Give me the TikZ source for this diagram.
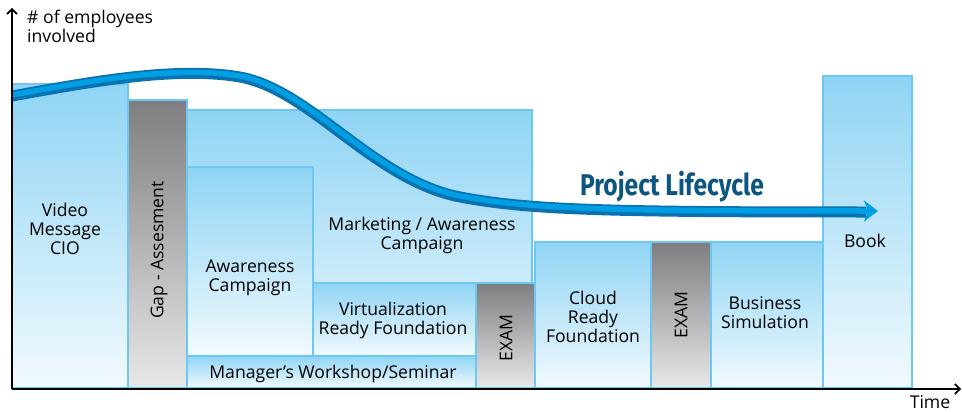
\documentclass[tikz,border=0pt]{standalone}
\usepackage{fontspec}
\setmainfont{Open Sans}
\newfontfamily\titlefont{Fira Sans}
\usetikzlibrary{arrows.meta}

\definecolor{boxtop}{HTML}{8FD4F4}
\definecolor{boxbot}{HTML}{F2FAFE}
\definecolor{boxedge}{HTML}{6CC8F0}
\definecolor{greytop}{HTML}{7E7D80}
\definecolor{greybot}{HTML}{E8E8E9}
\definecolor{lifedark}{HTML}{0A72B0}
\definecolor{lifelight}{HTML}{009FE3}
\definecolor{titleblue}{HTML}{0B5680}

\tikzset{
  bluebox/.style={top color=boxtop, bottom color=boxbot, draw=boxedge, line width=1.2pt},
  greybox/.style={top color=greytop, bottom color=greybot, draw=boxedge, line width=1.2pt},
  lbl/.style={align=center, font=\fontsize{17.6}{19}\selectfont, inner sep=0pt},
  axis/.style={line width=2.2pt, -{Straight Barb[length=5pt,width=10pt,line width=1.6pt]}}
}

\begin{document}
\begin{tikzpicture}[x=1pt, y=-1pt]
  \useasboundingbox (0,0) rectangle (962,412);
  % boxes
  \shadedraw[bluebox] (12,84) rectangle (128,388);
  \shadedraw[bluebox] (187,110) rectangle (532,388);
  \shadedraw[bluebox] (187,167) rectangle (313,356);
  \shadedraw[bluebox] (313,283) rectangle (476,356);
  \shadedraw[bluebox] (187,356) rectangle (476,388);
  \shadedraw[bluebox] (535,242) rectangle (651,388);
  \shadedraw[bluebox] (711,242) rectangle (823,388);
  \shadedraw[bluebox] (823,76) rectangle (912,388);
  \shadedraw[greybox] (128,100) rectangle (187,388);
  \shadedraw[greybox] (476,283) rectangle (535,388);
  \shadedraw[greybox] (651,242) rectangle (711,388);
  % lifecycle curve
  \draw[lifedark, line width=11pt] (12,96) .. controls (90,82) and (175,66) .. (240,77)
    .. controls (310,90) and (370,176) .. (455,196)
    .. controls (525,210) and (600,212) .. (866,212);
  \draw[lifelight, line width=5.5pt, -{Stealth[length=14pt,width=21pt,inset=4pt]}] (12,95) .. controls (90,81) and (175,65) .. (240,76)
    .. controls (310,89) and (370,175) .. (455,195)
    .. controls (525,209) and (600,211) .. (878,211);
  % labels
  \node[lbl] (cio) at (65,229) {Video\\Message\\CIO};
  \node[lbl, rotate=90] (gap) at (159,250) {Gap - Assesment};
  \node[lbl] (aware) at (250,278) {Awareness\\Campaign};
  \node[lbl] (market) at (422,235) {Marketing / Awareness\\Campaign};
  \node[lbl] (virt) at (393,320) {Virtualization\\Ready Foundation};
  \node[lbl] (workshop) at (333,374) {Manager's Workshop/Seminar};
  \node[lbl, rotate=90] (examA) at (506,338) {EXAM};
  \node[lbl] (cloud) at (593,317) {Cloud\\Ready\\Foundation};
  \node[lbl, rotate=90] (examB) at (681,315) {EXAM};
  \node[lbl] (business) at (765,313) {Business\\Simulation};
  \node[lbl] (book) at (865,241) {Book};
  \node[font=\titlefont\bfseries\fontsize{30}{32}\selectfont, text=titleblue, xscale=0.82, inner sep=0pt] (life) at (672,187) {Project Lifecycle};
  % axes
  \coordinate (origin) at (12,389);
  \coordinate (ytip) at (12,8);
  \coordinate (xtip) at (961,389);
  \draw[axis] (origin) -- (ytip);
  \draw[axis] (origin) -- (xtip);
  \node[lbl, align=left, anchor=north west] (ylabel) at (27,10) {\# of employees\\involved};
  \node[lbl, anchor=base] (xlabel) at (930,408) {Time};
\end{tikzpicture}
\end{document}
